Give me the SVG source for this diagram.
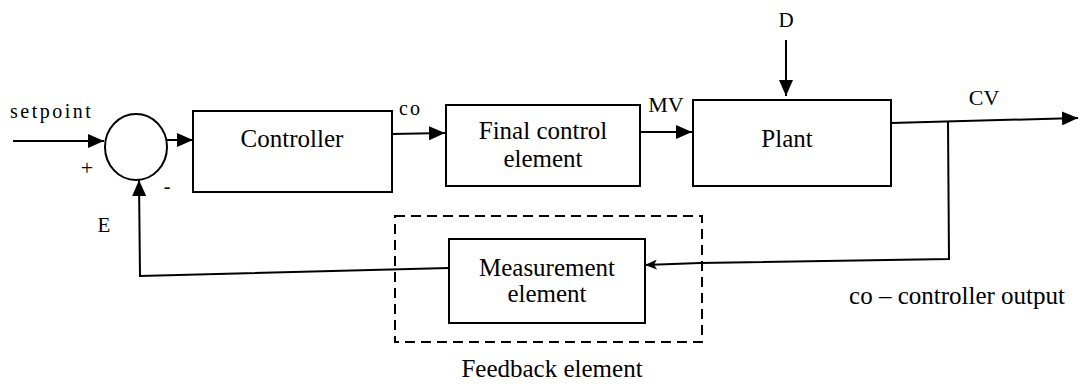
<svg xmlns="http://www.w3.org/2000/svg" width="1080" height="390" viewBox="0 0 1080 390">
  <defs>
    <marker id="arrow" markerUnits="userSpaceOnUse" markerWidth="16" markerHeight="14" refX="16" refY="7" orient="auto">
      <path d="M0,0 L16,7 L0,14 z" fill="#000"/>
    </marker>
    <marker id="arrowSmall" markerUnits="userSpaceOnUse" markerWidth="12" markerHeight="10" refX="12" refY="5" orient="auto">
      <path d="M0,0 L12,5 L0,10 L3,5 z" fill="#000"/>
    </marker>
  </defs>
  <style>
    .box { fill: #fff; stroke: #000; stroke-width: 2; }
    .line { fill: none; stroke: #000; stroke-width: 2; }
    .arr { marker-end: url(#arrow); }
    .dash { fill: none; stroke: #000; stroke-width: 2; stroke-dasharray: 10 6; }
    .t { font-family: 'Liberation Serif', 'Times New Roman', serif; fill: #000; }
    .lbl { font-size: 25px; text-anchor: middle; }
  </style>
  <rect width="1080" height="390" fill="#fff"/>

  <g id="connectors">
    <line class="line arr" x1="13" y1="141" x2="104" y2="141"/>
    <line class="line arr" x1="167" y1="140" x2="193" y2="140"/>
    <line class="line arr" x1="392" y1="134" x2="445" y2="133"/>
    <line class="line arr" x1="641" y1="132" x2="692" y2="132"/>
    <line class="line arr" x1="786" y1="40" x2="786" y2="96"/>
    <line class="line arr" x1="891" y1="123" x2="1078" y2="118"/>
    <polyline class="line" points="948,122 949,259 700,263"/>
    <line class="line" x1="700" y1="263" x2="645" y2="265" marker-end="url(#arrowSmall)"/>
    <polyline class="line arr" points="449,268 140,276 139,180"/>
  </g>

  <g id="summing-junction">
    <ellipse cx="136" cy="147" rx="31" ry="33" class="box"/>
    <text class="t" x="87" y="175" font-size="22" text-anchor="middle">+</text>
    <text class="t" x="167" y="193" font-size="20" text-anchor="middle">-</text>
  </g>

  <g id="setpoint-label">
    <text class="t" x="10" y="118" font-size="20" letter-spacing="2.5">setpoint</text>
  </g>

  <g id="controller">
    <rect class="box" x="193" y="111" width="199" height="81"/>
    <text class="t lbl" x="292" y="147">Controller</text>
  </g>

  <g id="co-label">
    <text class="t" x="399" y="115" font-size="20" letter-spacing="2">co</text>
  </g>

  <g id="final-control-element">
    <rect class="box" x="446" y="105" width="194" height="81"/>
    <text class="t lbl" x="543" y="139">Final control</text>
    <text class="t lbl" x="543" y="167">element</text>
  </g>

  <g id="mv-label">
    <text class="t" x="666" y="112" font-size="22" text-anchor="middle">MV</text>
  </g>

  <g id="plant">
    <rect class="box" x="693" y="100" width="198" height="86"/>
    <text class="t lbl" x="787" y="147">Plant</text>
  </g>

  <g id="d-label">
    <text class="t" x="786" y="27" font-size="21" text-anchor="middle">D</text>
  </g>

  <g id="cv-label">
    <text class="t" x="984" y="105" font-size="22" text-anchor="middle">CV</text>
  </g>

  <g id="feedback-element">
    <rect class="dash" x="395" y="216" width="307" height="126"/>
    <text class="t lbl" x="552" y="377">Feedback element</text>
  </g>

  <g id="measurement-element">
    <rect class="box" x="449" y="239" width="196" height="84"/>
    <text class="t lbl" x="547" y="276">Measurement</text>
    <text class="t lbl" x="547" y="302">element</text>
  </g>

  <g id="e-label">
    <text class="t" x="104" y="232" font-size="21" text-anchor="middle">E</text>
  </g>

  <g id="legend">
    <text class="t lbl" x="957" y="304">co – controller output</text>
  </g>
</svg>
